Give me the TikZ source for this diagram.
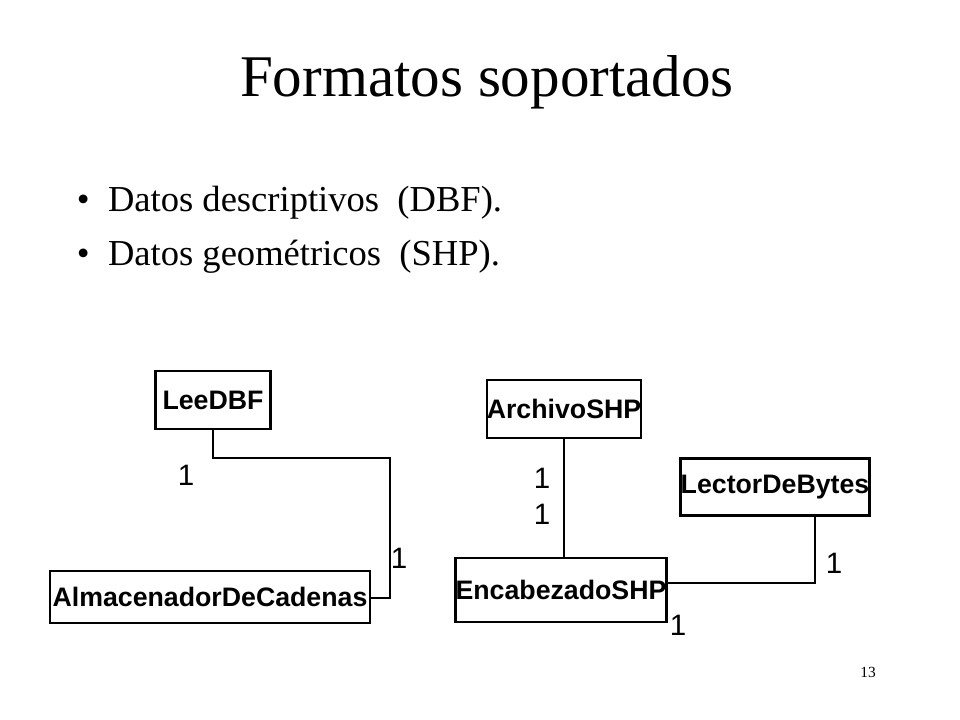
\documentclass[tikz,border=0pt]{standalone}
\usepackage{fontspec}
\setmainfont{Liberation Serif}
\newfontfamily\boxfont{Liberation Sans}
\usetikzlibrary{positioning}
\begin{document}
\begin{tikzpicture}[x=0.025cm,y=-0.025cm,
    classbox/.style={draw,line width=1.8pt,font=\boxfont\bfseries\fontsize{19}{19}\selectfont,inner sep=0pt},
    link/.style={line width=1.5pt},
    mult/.style={font=\boxfont\fontsize{21}{21}\selectfont}]
    \useasboundingbox (0,0) rectangle (960,720);

    % Title and bullets
    \node (title) at (487,82) {\fontsize{42}{42}\selectfont Formatos soportados};
    \node[anchor=west] (b1) at (72,203) {\fontsize{26}{26}\selectfont \textbullet\ \ Datos descriptivos \ (DBF).};
    \node[anchor=west] (b2) at (72,257) {\fontsize{26}{26}\selectfont \textbullet\ \ Datos geométricos \ (SHP).};
    \node (page) at (868,672) {\fontsize{11}{11}\selectfont 13};

    % Classes
    \node[classbox,minimum width=2.88cm,minimum height=1.45cm] (lee) at (213,400) {LeeDBF};
    \node[classbox,minimum width=8cm,minimum height=1.3cm] (alm) at (210,597) {AlmacenadorDeCadenas};
    \node[classbox,minimum width=3.3cm,minimum height=1.45cm] (arch) at (564,409) {ArchivoSHP};
    \node[classbox,minimum width=4.1cm,minimum height=1.42cm] (lect) at (775,487) {LectorDeBytes};
    \node[classbox,minimum width=4.3cm,minimum height=1.6cm] (enc) at (561,590) {EncabezadoSHP};

    % Associations
    \coordinate (c1) at (213,458);
    \coordinate (c2) at (390,458);
    \coordinate (c3) at (390,598);
    \draw[link] (lee.south) -- (c1) -- (c2) -- (c3) -- (alm.east |- c3);
    \draw[link] (arch.south -| 564,0) -- (enc.north -| 564,0);
    \coordinate (c4) at (815,583);
    \draw[link] (enc.east |- c4) -- (c4) -- (lect.south -| c4);

    % Multiplicities
    \node[mult] (m1) at (186,475) {1};
    \node[mult] (m2) at (399,558) {1};
    \node[mult] (m3) at (542,478) {1};
    \node[mult] (m4) at (542,514) {1};
    \node[mult] (m5) at (834,563) {1};
    \node[mult] (m6) at (678,625) {1};
\end{tikzpicture}
\end{document}
